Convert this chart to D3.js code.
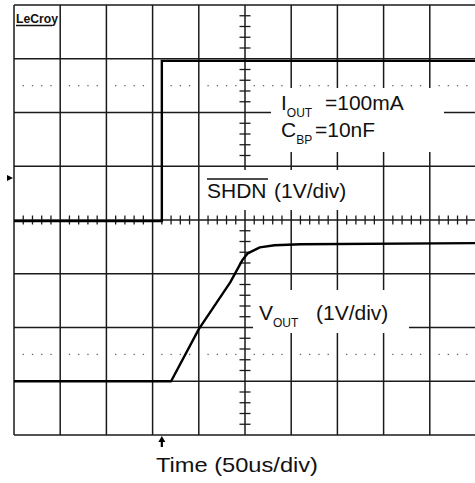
<!DOCTYPE html>
<html>
<head>
<meta charset="utf-8">
<script src="https://cdn.jsdelivr.net/npm/d3@7"></script>
<style>
  html, body { margin: 0; padding: 0; background: #fff; }
  svg { display: block; }
  text { font-family: "Liberation Sans", Arial, sans-serif; fill: #111; }
</style>
</head>
<body>
<svg id="scope" width="475" height="483"></svg>
<script>
// Timebase: 50 us/div over 10 divisions; vertical: 8 divisions at 1 V/div
const timeDomain = [0, 500];          // us
const divDomain = [-4, 4];            // vertical divisions
const timePerDiv = 50;
const minorPerDiv = 5;

// SHDN channel (ground at centre line)
const shdnOffset = 0;
const shdnTime  = [0, 160, 160, 500];
const shdnVolts = [-0.02, -0.02, 2.96, 2.96];

// VOUT channel (ground three divisions below centre)
const voutOffset = -3;
const voutTime  = [0, 170, 200, 234, 247, 253, 266, 282, 310, 500];
const voutVolts = [0, 0, 0.97, 1.84, 2.25, 2.38, 2.49, 2.53, 2.55, 2.57];

const triggerTime = 160;              // us, arrow under the graticule
const markerLevel = 0.78;             // div, channel marker at left edge
const dottedRows = [2.5, -2.5];       // div

const svg = d3.select("#scope");
const x = d3.scaleLinear().domain(timeDomain).range([14, 476]);
const y = d3.scaleLinear().domain(divDomain).range([435, 5]);

// ---- graticule ----
const grid = svg.append("g");
const majorT = d3.range(timeDomain[0], timeDomain[1] + 1, timePerDiv);
const majorV = d3.range(divDomain[0], divDomain[1] + 1, 1);

grid.selectAll("line.vx").data(majorT).join("line")
  .attr("x1", d => x(d)).attr("x2", d => x(d))
  .attr("y1", y(divDomain[1])).attr("y2", y(divDomain[0]))
  .attr("stroke", "#1a1a1a").attr("stroke-width", 1.5);
grid.selectAll("line.hy").data(majorV).join("line")
  .attr("x1", x(timeDomain[0])).attr("x2", x(timeDomain[1]))
  .attr("y1", d => y(d)).attr("y2", d => y(d))
  .attr("stroke", "#1a1a1a").attr("stroke-width", 1.5);

// minor ticks on the centre cross
const minorT = d3.range(timeDomain[0], timeDomain[1] + 0.01, timePerDiv / minorPerDiv)
  .filter(t => Math.abs(t % timePerDiv) > 1e-6);
const minorV = d3.range(divDomain[0], divDomain[1] + 0.001, 1 / minorPerDiv)
  .filter(v => Math.abs(v - Math.round(v)) > 1e-6);

grid.selectAll("line.mt").data(minorT).join("line")
  .attr("x1", d => x(d)).attr("x2", d => x(d))
  .attr("y1", y(0) - 4.5).attr("y2", y(0) + 4.5)
  .attr("stroke", "#1a1a1a").attr("stroke-width", 1.3);
grid.selectAll("line.mv").data(minorV).join("line")
  .attr("x1", x(250) - 5.5).attr("x2", x(250) + 5.5)
  .attr("y1", d => y(d)).attr("y2", d => y(d))
  .attr("stroke", "#1a1a1a").attr("stroke-width", 1.3);

// dotted rows
dottedRows.forEach(r => {
  grid.selectAll(null).data(minorT).join("rect")
    .attr("x", d => x(d) - 0.6).attr("y", y(r) - 0.6)
    .attr("width", 1.3).attr("height", 1.3)
    .attr("fill", "#666");
});

// ---- annotations (with white backing boxes that mask the graticule) ----
const ann = svg.append("g");
ann.append("rect").attr("x", 271).attr("y", 88).attr("width", 173).attr("height", 64).attr("fill", "#fff");
ann.append("rect").attr("x", 201).attr("y", 170).attr("width", 161).attr("height", 40).attr("fill", "#fff");
ann.append("rect").attr("x", 253).attr("y", 290).attr("width", 156).attr("height", 43).attr("fill", "#fff");

const t1 = ann.append("text").attr("x", 281).attr("y", 110).attr("font-size", 21);
t1.append("tspan").text("I");
t1.append("tspan").attr("font-size", 12).attr("dy", 7).text("OUT");
t1.append("tspan").attr("x", 325).attr("dy", -7).text("=100mA");

const t2 = ann.append("text").attr("x", 281).attr("y", 137).attr("font-size", 21);
t2.append("tspan").text("C");
t2.append("tspan").attr("font-size", 12).attr("dy", 7).text("BP");
t2.append("tspan").attr("x", 315).attr("dy", -7).text("=10nF");

const t3 = ann.append("text").attr("x", 207).attr("y", 198).attr("font-size", 21);
t3.append("tspan").text("SHDN");
t3.append("tspan").attr("x", 274).text("(1V/div)");
// overline bar for SHDN
ann.append("line").attr("x1", 207).attr("x2", 268).attr("y1", 179).attr("y2", 179)
  .attr("stroke", "#111").attr("stroke-width", 1.4);

const t4 = ann.append("text").attr("x", 259).attr("y", 320).attr("font-size", 21);
t4.append("tspan").text("V");
t4.append("tspan").attr("font-size", 12).attr("dy", 7).text("OUT");
t4.append("tspan").attr("x", 316).attr("dy", -7).text("(1V/div)");

svg.append("text").attr("x", 156).attr("y", 472).attr("font-size", 21)
  .attr("textLength", 162).attr("lengthAdjust", "spacingAndGlyphs")
  .text("Time (50us/div)");

// logo
svg.append("text").attr("x", 16).attr("y", 23)
  .attr("font-family", "DejaVu Sans").attr("font-weight", "bold")
  .attr("font-size", 12).attr("textLength", 42).attr("lengthAdjust", "spacingAndGlyphs")
  .text("LeCroy");
svg.append("line").attr("x1", 16).attr("x2", 52).attr("y1", 25.5).attr("y2", 25.5)
  .attr("stroke", "#111").attr("stroke-width", 1.5);

// ---- traces ----
const line = d3.line().x(d => x(d[0])).y(d => y(d[1]));
svg.append("path")
  .datum(d3.zip(shdnTime, shdnVolts.map(v => v + shdnOffset)))
  .attr("d", line).attr("fill", "none").attr("stroke", "#000").attr("stroke-width", 2.4);
svg.append("path")
  .datum(d3.zip(voutTime, voutVolts.map(v => v + voutOffset)))
  .attr("d", line).attr("fill", "none").attr("stroke", "#000").attr("stroke-width", 2.4)
  .attr("stroke-linejoin", "round");

// ---- markers ----
const my = y(markerLevel);
svg.append("path").attr("d", `M7,${my - 3}L13,${my}L7,${my + 3}Z`).attr("fill", "#000");
const tx = x(triggerTime);
svg.append("path").attr("d", `M${tx},436L${tx + 3.5},442L${tx - 3.5},442Z`).attr("fill", "#000");
svg.append("line").attr("x1", tx).attr("x2", tx).attr("y1", 441).attr("y2", 447)
  .attr("stroke", "#000").attr("stroke-width", 2.2);
</script>
</body>
</html>
